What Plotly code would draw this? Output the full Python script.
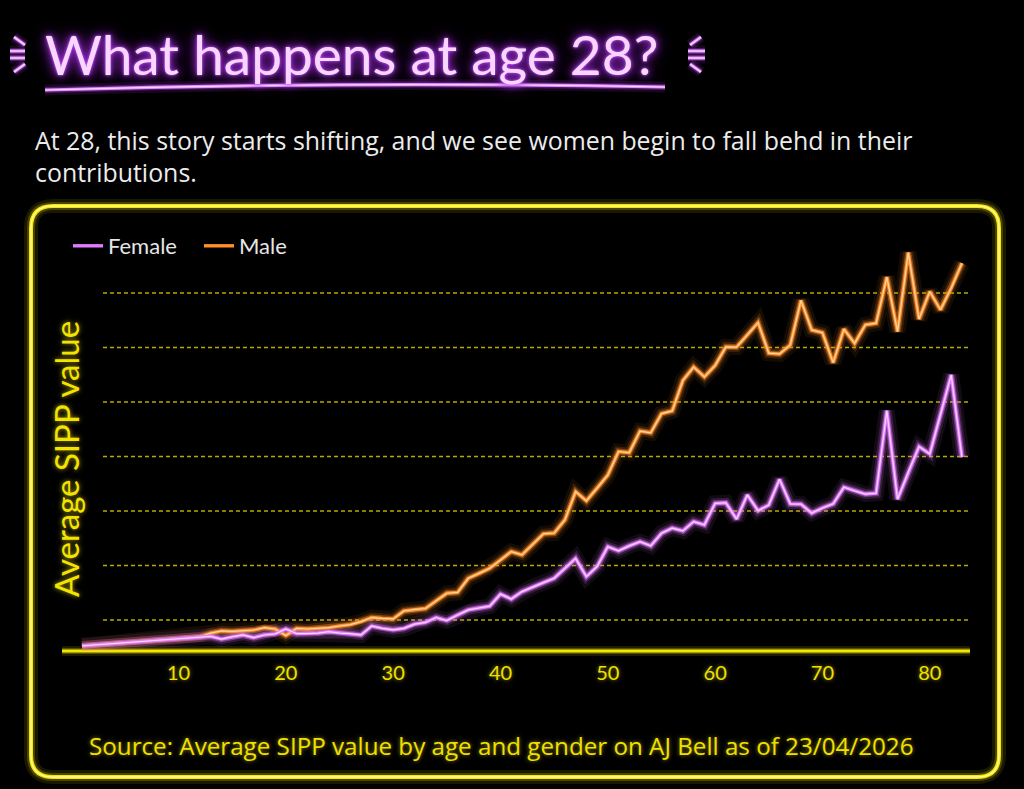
import plotly.graph_objects as go

# ---------------- data ----------------
AGES = list(range(1, 84))

FEMALE = [10.5, 10.8, 11.1, 11.5, 11.7, 12.0, 12.4, 12.7, 13.0, 13.2, 13.5, 13.8, 14.0,
          13.0, 13.9, 14.5, 13.5, 14.5, 14.9, 16.7, 15.0, 15.0, 15.2, 15.7, 15.2, 15.0, 14.5,
          17.8, 16.9, 16.4, 16.9, 18.5, 19.1, 20.9, 19.8, 21.8, 23.7, 24.4, 25.1, 29.5,
          27.7, 30.4, 32.2, 33.7, 35.3, 39.0, 42.6, 35.9, 39.6, 46.9,
          45.4, 47.2, 48.7, 47.2, 51.8, 53.7, 52.7, 56.1, 54.9, 62.8,
          63.0, 57.0, 65.9, 60.1, 62.2, 71.6, 62.6, 62.5, 59.2, 61.1,
          62.6, 68.7, 67.3, 66.2, 66.5, 96.8, 64.3, 74.3, 83.6, 80.9,
          95.6, 109.9, 79.7]

MALE = [10.5, 10.8, 11.1, 11.5, 11.7, 12.0, 12.4, 12.7, 13.0, 13.2, 13.5, 13.8,
        15.2,
        16.0, 15.8, 16.1, 16.3, 17.2, 16.7, 14.3, 16.9, 16.7, 16.9, 17.2, 17.8, 18.3, 19.4,
        20.9, 20.6, 20.4, 23.3, 23.9, 24.2, 27.0, 29.8, 30.1, 35.3, 37.1, 39.0, 42.0,
        45.1, 43.9, 47.7, 51.6, 51.9, 56.7, 67.1, 63.7, 68.4, 73.2,
        81.8, 81.4, 89.3, 88.7, 95.7, 96.7, 107.9, 112.8, 109.2, 113.4,
        120.2, 120.1, 124.6, 129.1, 117.9, 117.6, 120.9, 137.2, 126.4, 125.4,
        114.4, 126.7, 121.5, 128.3, 128.9, 145.8, 125.8, 154.8, 130.4, 140.5,
        133.8, 141.8, 150.9]

X_TICKS = [10, 20, 30, 40, 50, 60, 70, 80]
X_TICK_LABELS = ["10", "20", "30", "40", "50", "60", "70", "80"]
GRID_VALUES = [20, 40, 60, 80, 100, 120, 140]

TITLE = "What happens at age 28?"
SUBTITLE = ("At 28, this story starts shifting, and we see women begin to fall behd in their"
            "<br>contributions.")
SOURCE = "Source: Average SIPP value by age and gender on AJ Bell as of 23/04/2026"
Y_TITLE = "Average SIPP value"
SERIES_NAMES = ["Female", "Male"]

# ---------------- layout geometry ----------------
W, H = 1024, 789
L, R, T, B = 62, 54, 240, 138
PW, PH = W - L - R, H - T - B


def px(x):
    return (x - L) / PW


def py(y):
    return (H - B - y) / PH


FONT = "Lato"
TEXT_FONT = "Open Sans"
YELLOW = "#f5e600"
PURPLE = "#e27bff"
PURPLE_HOT = "#f9d4ff"
ORANGE = "#ff8f2a"
ORANGE_HOT = "#ffd6a8"

fig = go.Figure()

# glow layers
for series, col in [(MALE, ORANGE), (FEMALE, PURPLE)]:
    for w, op in [(16, 0.08), (10, 0.16), (6, 0.4)]:
        fig.add_trace(go.Scatter(x=AGES, y=series, mode="lines",
                                 line=dict(color=col, width=w), opacity=op,
                                 showlegend=False, hoverinfo="skip"))

# core lines (male below female)
fig.add_trace(go.Scatter(x=AGES, y=MALE, mode="lines", name=SERIES_NAMES[1],
                         line=dict(color=ORANGE, width=3.4), legendrank=2))
fig.add_trace(go.Scatter(x=AGES, y=MALE, mode="lines", showlegend=False, hoverinfo="skip",
                         line=dict(color=ORANGE_HOT, width=1.2)))
fig.add_trace(go.Scatter(x=AGES, y=FEMALE, mode="lines", name=SERIES_NAMES[0],
                         line=dict(color=PURPLE, width=3.4), legendrank=1))
fig.add_trace(go.Scatter(x=AGES, y=FEMALE, mode="lines", showlegend=False, hoverinfo="skip",
                         line=dict(color=PURPLE_HOT, width=1.2)))

shapes = []

# dotted gridlines
for g in GRID_VALUES:
    shapes.append(dict(type="line", xref="paper", yref="y", x0=px(103), x1=px(969),
                       y0=g, y1=g, layer="below",
                       line=dict(color="rgba(215,200,0,0.85)", width=1.5, dash="4px,3px")))

# glowing x-axis line
for w, op, col in [(10, 0.12, YELLOW), (6, 0.25, YELLOW), (3, 1.0, YELLOW)]:
    shapes.append(dict(type="line", xref="paper", yref="paper", x0=0, x1=1, y0=0, y1=0,
                       layer="below", opacity=op, line=dict(color=col, width=w)))

# rounded glowing frame
x0, x1, y0, y1, r = 31, 999, 206, 777, 22
box = (f"M {px(x0 + r)},{py(y0)} L {px(x1 - r)},{py(y0)} Q {px(x1)},{py(y0)} {px(x1)},{py(y0 + r)} "
       f"L {px(x1)},{py(y1 - r)} Q {px(x1)},{py(y1)} {px(x1 - r)},{py(y1)} "
       f"L {px(x0 + r)},{py(y1)} Q {px(x0)},{py(y1)} {px(x0)},{py(y1 - r)} "
       f"L {px(x0)},{py(y0 + r)} Q {px(x0)},{py(y0)} {px(x0 + r)},{py(y0)} Z")
for w, op, col in [(14, 0.10, YELLOW), (8, 0.22, YELLOW), (4, 1.0, YELLOW), (1.4, 0.9, "#fffbb0")]:
    shapes.append(dict(type="path", xref="paper", yref="paper", path=box, opacity=op,
                       line=dict(color=col, width=w)))

# title underline and decorative strokes
under = f"M {px(45)},{py(90)} Q {px(355)},{py(81)} {px(665)},{py(87)}"
strokes = [
    ((14, 37), (25, 45)), ((10, 51), (25, 51)), ((10, 58), (25, 58)), ((14, 72), (25, 64)),
    ((701, 37), (690, 45)), ((688, 51), (705, 51)), ((688, 58), (705, 58)), ((701, 72), (690, 64)),
]
for w, op, col in [(11, 0.12, "#c040ff"), (6, 0.3, "#c850ff"), (3.2, 1.0, "#e38cff"), (1.2, 0.9, "#fbe0ff")]:
    shapes.append(dict(type="path", xref="paper", yref="paper", path=under, opacity=op,
                       line=dict(color=col, width=w)))
    for (a, b) in strokes:
        shapes.append(dict(type="line", xref="paper", yref="paper",
                           x0=px(a[0]), y0=py(a[1]), x1=px(b[0]), y1=py(b[1]), opacity=op,
                           line=dict(color=col, width=w)))

annotations = [
    dict(text=TITLE, x=px(43), y=py(54), xref="paper", yref="paper", xanchor="left",
         yanchor="middle", showarrow=False,
         font=dict(family=FONT, size=55, color="#f8d6ff",
                   shadow="0 0 3px #d060ff, 0 0 8px #b030f0, 0 0 16px #9020d0")),
    dict(text=SUBTITLE, x=px(33), y=py(156), xref="paper", yref="paper", xanchor="left",
         yanchor="middle", align="left", showarrow=False,
         font=dict(family=TEXT_FONT, size=24.9, color="#ececec")),
    dict(text=SOURCE, x=px(501), y=py(745), xref="paper", yref="paper", xanchor="center",
         yanchor="middle", showarrow=False,
         font=dict(family=TEXT_FONT, size=24.2, color="#f0e000",
                   shadow="0 0 4px rgba(240,224,0,0.6)")),
    dict(text=Y_TITLE, x=px(66), y=py(459), xref="paper", yref="paper", xanchor="center",
         yanchor="middle", textangle=-90, showarrow=False,
         font=dict(family=FONT, size=33, color="#f3e300", shadow="0 0 5px rgba(245,230,0,0.7)")),
]

fig.update_layout(
    width=W, height=H, margin=dict(l=L, r=R, t=T, b=B),
    paper_bgcolor="#000000", plot_bgcolor="#000000",
    shapes=shapes, annotations=annotations,
    showlegend=True,
    legend=dict(orientation="h", x=px(68), y=py(225), xanchor="left", yanchor="top",
                font=dict(family=FONT, size=22, color="#e6e6e6"),
                bgcolor="rgba(0,0,0,0)", itemwidth=30, traceorder="normal",
                entrywidth=86, entrywidthmode="pixels"),
    xaxis=dict(range=[-0.86, 83.75], tickvals=X_TICKS, ticktext=X_TICK_LABELS,
               showgrid=False, zeroline=False, showline=False, ticks="",
               ticklabelstandoff=8,
               tickfont=dict(family=FONT, size=20, color="#f0e000",
                             shadow="0 0 4px rgba(240,224,0,0.6)")),
    yaxis=dict(range=[8.62, 159.4], showticklabels=False, showgrid=False, zeroline=False,
               showline=False, ticks=""),
    hovermode=False,
)

fig.write_html("out.html")
